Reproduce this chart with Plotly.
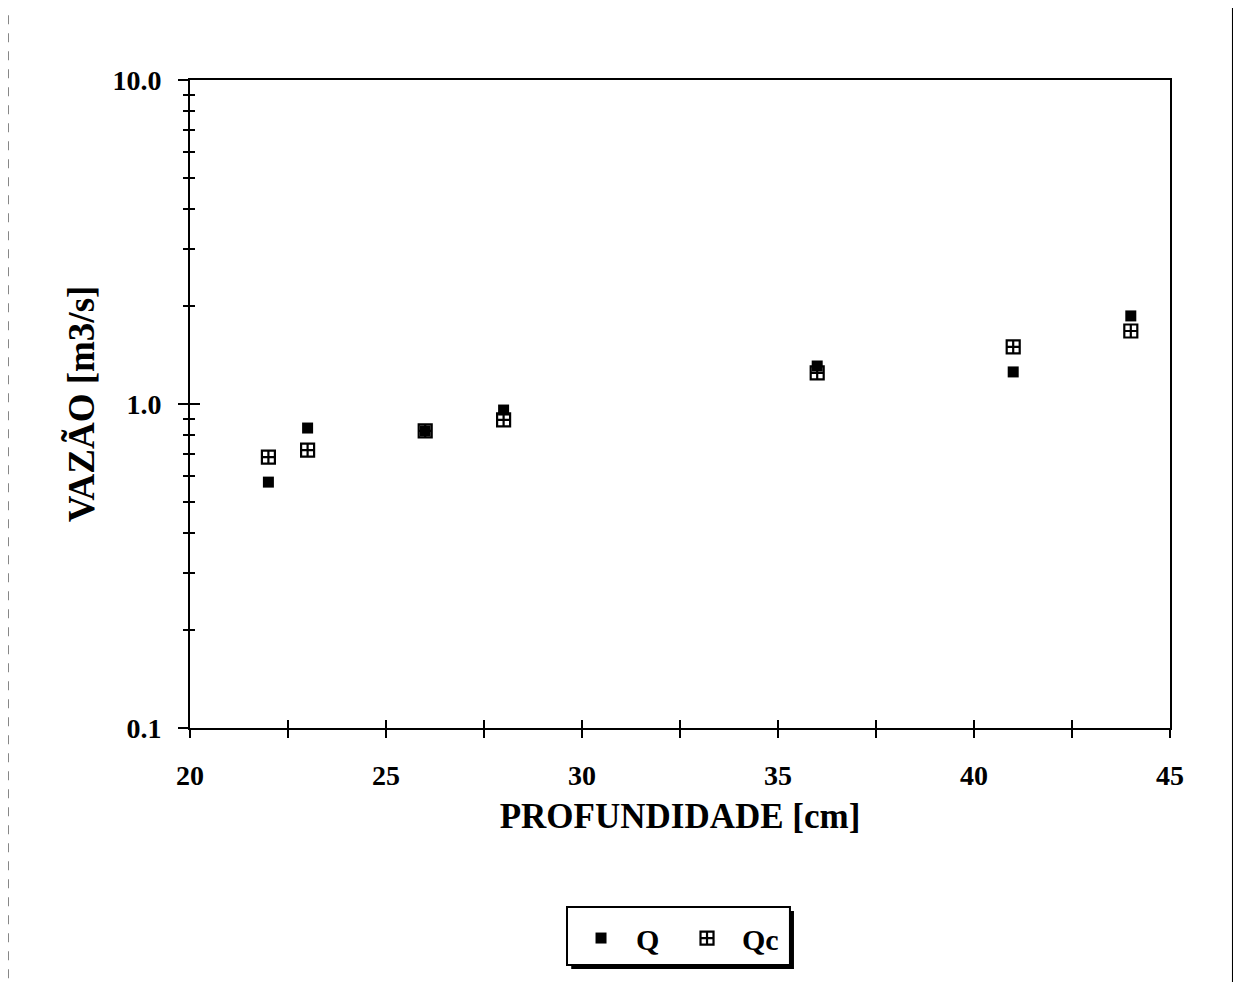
import plotly.graph_objects as go

# Data
profundidade = [22, 23, 26, 28, 36, 41, 44]
q_values = [0.574, 0.843, 0.826, 0.958, 1.31, 1.256, 1.87]
qc_values = [0.686, 0.721, 0.826, 0.893, 1.247, 1.50, 1.68]

x_tick_vals = [20, 25, 30, 35, 40, 45]
x_minor_vals = [22.5, 27.5, 32.5, 37.5, 42.5]
y_tick_vals = [0.1, 1.0, 10.0]
y_tick_text = ["0.1", "1.0", "10.0"]
y_minor_vals = [m * d for d in (0.1, 1.0) for m in range(2, 10)]

FONT = "Liberation Serif, Times New Roman, serif"
PAD = "\u00a0\u00a0"

fig = go.Figure()
fig.add_trace(go.Scatter(
    x=profundidade, y=q_values, mode="markers", name=PAD + "Q",
    marker=dict(symbol="square", size=11, color="black",
                line=dict(width=0)),
))
fig.add_trace(go.Scatter(
    x=profundidade, y=qc_values, mode="markers", name=PAD + "Qc",
    marker=dict(symbol="square-cross-open", size=13, color="black",
                line=dict(width=2.2, color="black")),
))
# invisible trace to activate overlay axes used for crossing ticks
fig.add_trace(go.Scatter(x=[20], y=[1], xaxis="x2", yaxis="y2",
                         mode="markers", marker=dict(opacity=0),
                         showlegend=False, hoverinfo="skip"))

axis_common = dict(showgrid=False, zeroline=False, linecolor="black",
                   linewidth=2, tickcolor="black", tickwidth=1.5)

fig.update_layout(
    width=1241, height=982,
    paper_bgcolor="white", plot_bgcolor="white",
    margin=dict(l=182, r=79, t=72, b=262),
    font=dict(family=FONT, color="black", size=28, weight="bold"),
    xaxis=dict(
        **axis_common,
        range=[20, 45], tickmode="array", tickvals=x_tick_vals,
        ticks="outside", ticklen=8, mirror=True, showline=True,
        ticklabelstandoff=13,
        tickfont=dict(size=28, family=FONT, weight="bold"),
        minor=dict(tickmode="array", tickvals=x_minor_vals, ticks="outside",
                   ticklen=8, tickcolor="black", tickwidth=1.5),
        title=dict(text="PROFUNDIDADE [cm]", standoff=14,
                   font=dict(size=35, family=FONT, weight="bold")),
    ),
    yaxis=dict(
        **axis_common,
        type="log", range=[-1, 1], tickmode="array",
        tickvals=y_tick_vals, ticktext=y_tick_text,
        ticks="outside", ticklen=10, mirror=True, showline=True,
        ticklabelstandoff=11,
        tickfont=dict(size=28, family=FONT, weight="bold"),
        minor=dict(tickmode="array", tickvals=y_minor_vals, ticks="outside",
                   ticklen=5, tickcolor="black", tickwidth=1.5),
        title=dict(text="VAZÃO [m3/s]", standoff=6,
                   font=dict(size=37, family=FONT, weight="bold")),
    ),
    xaxis2=dict(overlaying="x", range=[20, 45],
                tickmode="array", tickvals=x_tick_vals, ticks="inside",
                ticklen=8, tickcolor="black", tickwidth=1.5,
                showticklabels=False, showgrid=False, zeroline=False,
                showline=False, side="bottom",
                minor=dict(tickmode="array", tickvals=x_minor_vals,
                           ticks="inside", ticklen=8, tickcolor="black",
                           tickwidth=1.5)),
    yaxis2=dict(overlaying="y", type="log", range=[-1, 1],
                tickmode="array", tickvals=y_tick_vals, ticks="inside",
                ticklen=10, tickcolor="black", tickwidth=1.5,
                showticklabels=False, showgrid=False, zeroline=False,
                showline=False, side="left",
                minor=dict(tickmode="array", tickvals=y_minor_vals,
                           ticks="inside", ticklen=5, tickcolor="black",
                           tickwidth=1.5)),
    showlegend=True,
    legend=dict(
        orientation="h", x=0.399, xanchor="left", y=-0.284, yanchor="top",
        bgcolor="rgba(0,0,0,0)", borderwidth=0,
        font=dict(size=30, family=FONT, weight="bold"),
        itemwidth=30, entrywidth=61, tracegroupgap=0,
    ),
)

# legend frame with drop shadow and scanned-page edge lines (decorative)
fig.add_shape(type="rect", xref="paper", yref="paper",
              x0=0.389, x1=0.6163, y0=-0.3719, y1=-0.2824,
              fillcolor="black", line=dict(width=0), layer="below")
fig.add_shape(type="rect", xref="paper", yref="paper",
              x0=0.3847, x1=0.6122, y0=-0.3657, y1=-0.2762,
              fillcolor="white", line=dict(color="black", width=2),
              layer="below")
fig.add_shape(type="line", xref="paper", yref="paper",
              x0=1.0645, x1=1.0645, y0=1.13, y1=-0.40,
              line=dict(color="black", width=2.5))
fig.add_shape(type="line", xref="paper", yref="paper",
              x0=-0.186, x1=-0.186, y0=1.10, y1=-0.40,
              line=dict(color="black", width=1.5, dash="dash"))
fig.add_shape(type="line", xref="paper", yref="paper",
              x0=-0.184, x1=-0.133, y0=1.114, y1=1.114,
              line=dict(color="black", width=2.5))

fig.write_html("out.html")
